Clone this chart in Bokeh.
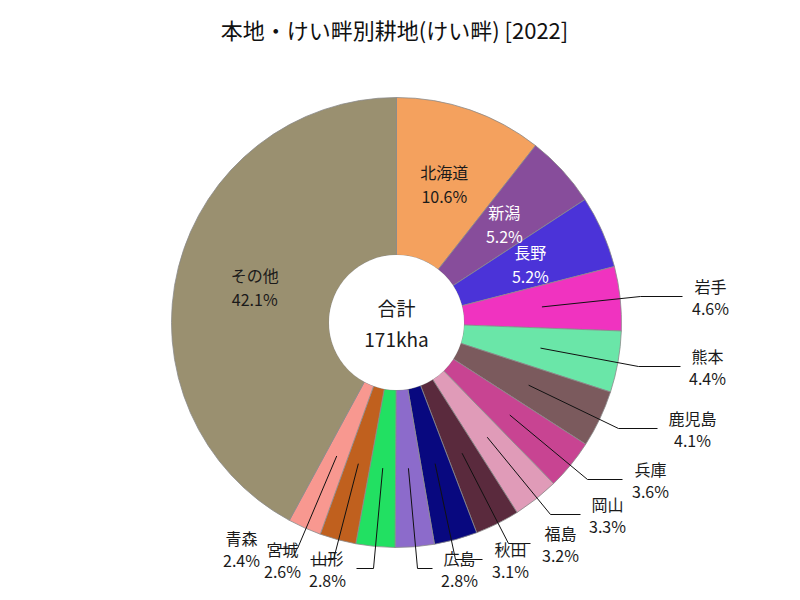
import math
from bokeh.plotting import figure
from bokeh.models import Range1d, ColumnDataSource
from bokeh.core.properties import value
from bokeh.embed import file_html
from bokeh.resources import INLINE

# ---------------- data ----------------
TITLE = "本地・けい畔別耕地(けい畔) [2022]"
CENTER_LABEL = "合計"
TOTAL_LABEL = "171kha"
names = ["北海道", "新潟", "長野", "岩手", "熊本", "鹿児島", "兵庫", "岡山",
         "福島", "秋田", "広島", "山形", "宮城", "青森", "その他"]
shares = [10.6, 5.2, 5.2, 4.6, 4.4, 4.1, 3.6, 3.3, 3.2, 3.1, 2.8, 2.8, 2.6, 2.4, 42.1]
colors = ["#F4A15E", "#874D9B", "#4B33D8", "#F033C0", "#6AE6A8", "#7B5A5D",
          "#C84492", "#E09BB8", "#5A2A3D", "#08087F", "#8C6BCB", "#22E062",
          "#C0601E", "#F89890", "#9A9070"]

# ---------------- layout (pixel coords, y downwards) ----------------
W, H = 800, 600
CX, CY = 396, 322
R_OUT, R_IN = 225, 67.5
FONT = value("Noto Sans CJK JP")

# outside label layout: name centre (x, y), elbow x, end x of the horizontal leader
outside_layout = {
    "岩手":   (710, 285, 640, 682),
    "熊本":   (707, 355, 638, 680),
    "鹿児島": (692, 417, 618, 657),
    "兵庫":   (650, 468, 587, 622),
    "岡山":   (607, 503, 550, 580),
    "福島":   (560, 532, 508, 530),
    "秋田":   (510, 548, 455, 482),
    "広島":   (459, 557, 417, 432),
    "山形":   (327, 557, 373, 356),
    "宮城":   (282, 548, 333, 310),
    "青森":   (241, 537, 297, 277),
}
white_text = {"新潟", "長野"}


def fy(y):
    return H - y


p = figure(width=W, height=H, output_backend="svg", toolbar_location=None,
           x_range=Range1d(0, W), y_range=Range1d(0, H), min_border=0)
p.axis.visible = False
p.grid.visible = False
p.outline_line_color = None
p.background_fill_color = "white"
p.border_fill_color = "white"

total = sum(shares)
starts, ends, mids = [], [], []
cum = 0.0
for s in shares:
    a0 = math.pi / 2 - 2 * math.pi * cum / total
    cum += s
    a1 = math.pi / 2 - 2 * math.pi * cum / total
    starts.append(a0)
    ends.append(a1)
    mids.append((a0 + a1) / 2)

src = ColumnDataSource(dict(x=[CX] * len(names), y=[fy(CY)] * len(names),
                            start=starts, end=ends, color=colors))
p.annular_wedge(x="x", y="y", inner_radius=R_IN, outer_radius=R_OUT,
                start_angle="start", end_angle="end", direction="clock",
                fill_color="color", line_color="#8a8a8a", line_width=0.8,
                source=src)

R_MID = (R_OUT + R_IN) / 2
in_x, in_y1, in_y2, in_col, in_name, in_val = [], [], [], [], [], []
lx, ly = [], []
o_x, o_y1, o_y2, o_name, o_val = [], [], [], [], []
for n, s, m in zip(names, shares, mids):
    px = CX + R_MID * math.cos(m)
    py = CY - R_MID * math.sin(m)
    pct = f"{s:.1f}%"
    if n in outside_layout:
        tx, ty, ex, endx = outside_layout[n]
        ly_mid = ty + 11
        lx.append([px, ex, endx])
        ly.append([fy(py), fy(ly_mid), fy(ly_mid)])
        o_x.append(tx)
        o_y1.append(fy(ty))
        o_y2.append(fy(ty + 22))
        o_name.append(n)
        o_val.append(pct)
    else:
        in_x.append(px)
        in_y1.append(fy(py - 12))
        in_y2.append(fy(py + 12))
        in_name.append(n)
        in_val.append(pct)
        in_col.append("white" if n in white_text else "#1a1a1a")

# donut hole
p.circle(x=[CX], y=[fy(CY)], radius=R_IN, fill_color="white", line_color=None)

p.multi_line(xs=lx, ys=ly, line_color="#111111", line_width=1)

p.text(x=in_x, y=in_y1, text=in_name, text_color=in_col, text_font=FONT,
       text_font_size="16px", text_align="center", text_baseline="middle")
p.text(x=in_x, y=in_y2, text=in_val, text_color=in_col, text_font=FONT,
       text_font_size="16px", text_align="center", text_baseline="middle")
p.text(x=o_x, y=o_y1, text=o_name, text_color="#1a1a1a", text_font=FONT,
       text_font_size="16px", text_align="center", text_baseline="middle")
p.text(x=o_x, y=o_y2, text=o_val, text_color="#1a1a1a", text_font=FONT,
       text_font_size="16px", text_align="center", text_baseline="middle")

p.text(x=[CX], y=[fy(307)], text=[CENTER_LABEL], text_color="#1a1a1a", text_font=FONT,
       text_font_size="19px", text_align="center", text_baseline="middle")
p.text(x=[CX], y=[fy(338)], text=[TOTAL_LABEL], text_color="#1a1a1a", text_font=FONT,
       text_font_size="19px", text_align="center", text_baseline="middle")

p.text(x=[394], y=[fy(28)], text=[TITLE], text_color="#111111", text_font=FONT,
       text_font_size="22px", text_align="center", text_baseline="middle")

open("out.html", "w").write(file_html(p, INLINE))
